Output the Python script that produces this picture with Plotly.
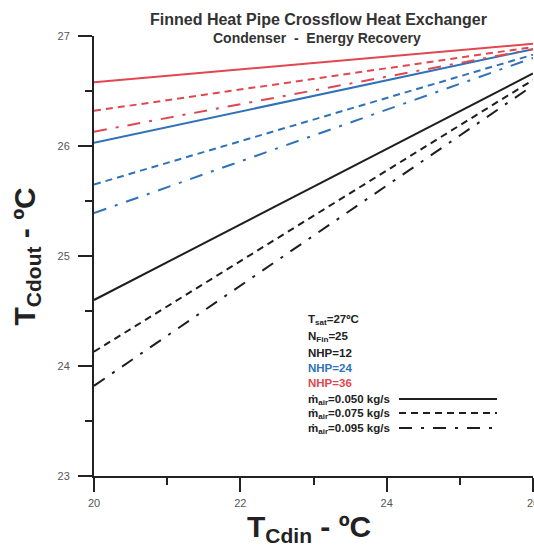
import plotly.graph_objects as go

# ---- data ----
T_cdin = [20, 26]

nhp12_m050 = [24.60, 26.66]
nhp12_m075 = [24.13, 26.60]
nhp12_m095 = [23.82, 26.55]

nhp24_m050 = [26.03, 26.88]
nhp24_m075 = [25.65, 26.83]
nhp24_m095 = [25.39, 26.80]

nhp36_m050 = [26.58, 26.93]
nhp36_m075 = [26.32, 26.90]
nhp36_m095 = [26.13, 26.88]

x_ticks = [20, 22, 24, 26]
y_ticks = [23, 24, 25, 26, 27]

legend_info = ["T<sub>sat</sub>=27ºC", "N<sub>Fin</sub>=25", "NHP=12", "NHP=24", "NHP=36"]
legend_flow = ["ṁ<sub>air</sub>=0.050 kg/s", "ṁ<sub>air</sub>=0.075 kg/s", "ṁ<sub>air</sub>=0.095 kg/s"]

# ---- styles ----
BLACK = "#1e1e1e"
BLUE = "#2f72b8"
RED = "#e0474f"
DASHES = ["solid", "7px,5px", "13px,9px,3px,9px"]

series = [
    (nhp12_m050, BLACK, 0), (nhp12_m075, BLACK, 1), (nhp12_m095, BLACK, 2),
    (nhp24_m050, BLUE, 0), (nhp24_m075, BLUE, 1), (nhp24_m095, BLUE, 2),
    (nhp36_m050, RED, 0), (nhp36_m075, RED, 1), (nhp36_m095, RED, 2),
]

fig = go.Figure()
for ys, col, d in series:
    fig.add_trace(go.Scatter(x=T_cdin, y=ys, mode="lines",
                             line=dict(color=col, width=2, dash=DASHES[d]),
                             showlegend=False, hoverinfo="skip", cliponaxis=False))

# plot area pixels: x 94..533, y 36..476
L, R, T, B = 94, 533, 36, 476
W, H = 534, 549


def px(xp):
    return (xp - L) / (R - L)


def py(yp):
    return (B - yp) / (B - T)


FONT = "Liberation Sans, Arial, sans-serif"
ann = []


def add_text(text, x, y, size, color="#222", xa="center", ya="middle", angle=0):
    ann.append(dict(text=text, x=px(x), y=py(y), xref="paper", yref="paper",
                    xanchor=xa, yanchor=ya, textangle=angle, showarrow=False,
                    font=dict(size=size, color=color, family=FONT)))


add_text("<b>Finned Heat Pipe Crossflow Heat Exchanger</b>", 318, 19, 16, "#333")
add_text("<b>Condenser  -  Energy Recovery</b>", 317, 38, 14, "#333")
add_text("<b>T<sub>Cdin</sub> - ºC</b>", 309, 508, 30, "#222", ya="top")
add_text("<b>T<sub>Cdout</sub> - ºC</b>", 5, 257, 30, "#222", xa="left", angle=-90)

info_rows = [318, 335, 352, 367, 382]
info_cols = ["#222", "#222", "#222", BLUE, RED]
for t, yy, c in zip(legend_info, info_rows, info_cols):
    add_text("<b>" + t + "</b>", 306, yy - 7, 11.5, c, xa="left", ya="top")

flow_rows = [398, 412, 427]
shapes = []
for i, (t, yy) in enumerate(zip(legend_flow, flow_rows)):
    add_text("<b>" + t + "</b>", 306, yy - 7, 11.5, "#222", xa="left", ya="top")
    shapes.append(dict(type="line", xref="paper", yref="paper", x0=px(399), x1=px(497),
                       y0=py(yy + 1), y1=py(yy + 1), line=dict(color=BLACK, width=2, dash=DASHES[i])))

axis_common = dict(showgrid=False, zeroline=False, showline=True, linecolor="#222", linewidth=2,
                   ticks="outside", tickwidth=2, tickcolor="#222", ticklen=14,
                   tickfont=dict(size=11, color="#555", family=FONT),
                   automargin=False, ticklabeloverflow="allow",
                   minor=dict(ticks="outside", ticklen=7, tickwidth=2, tickcolor="#222"))

fig.update_layout(
    width=W, height=H,
    margin=dict(l=L, r=W - R, t=T, b=H - B, pad=0),
    paper_bgcolor="white", plot_bgcolor="white",
    xaxis=dict(range=[20, 26], tickvals=x_ticks, ticktext=[str(v) for v in x_ticks],
               minor_dtick=1, ticklabelstandoff=2, **axis_common),
    yaxis=dict(range=[23, 27], tickvals=y_ticks, ticktext=[str(v) for v in y_ticks],
               minor_dtick=0.5, ticklabelstandoff=6, **axis_common),
    annotations=ann, shapes=shapes,
)

fig.write_html("out.html", config={"responsive": False, "displayModeBar": False},
               post_script="document.body.style.margin='0px';document.body.style.overflow='hidden';")
